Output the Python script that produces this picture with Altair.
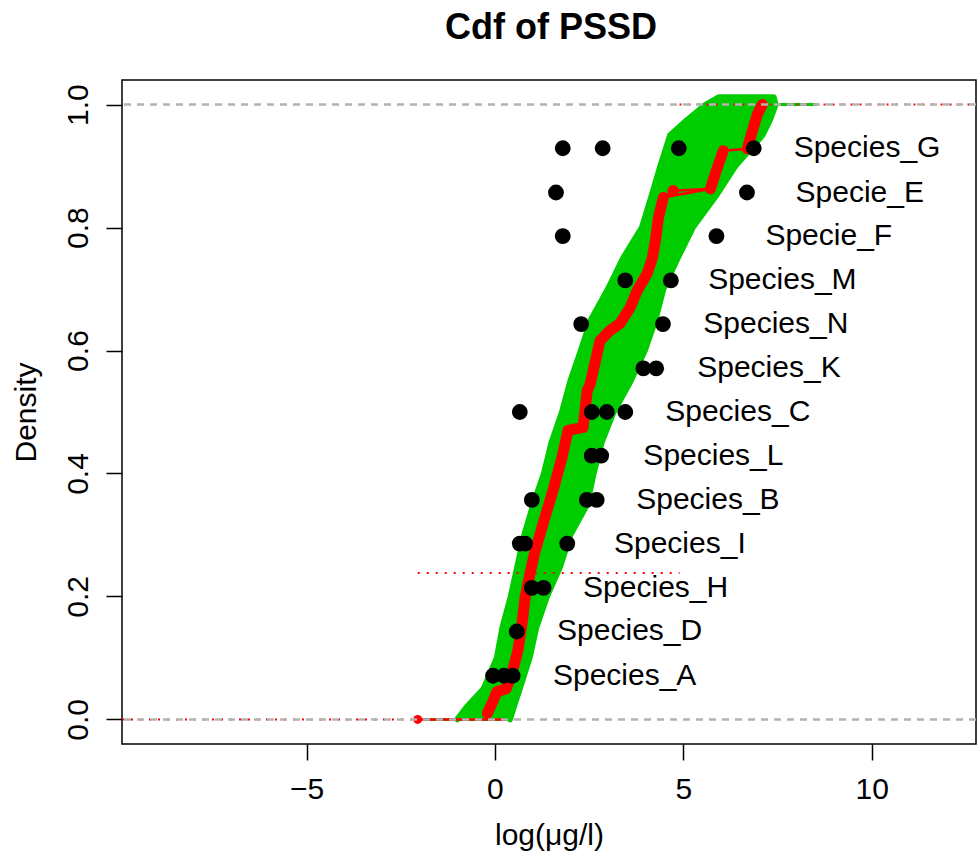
import altair as alt
import pandas as pd

FONT = "Liberation Sans"

# ---- species data (black points) ----
species = ["Species_A", "Species_D", "Species_H", "Species_I", "Species_B", "Species_L",
           "Species_C", "Species_K", "Species_N", "Species_M", "Specie_F", "Specie_E", "Species_G"]
species_y = [0.071, 0.143, 0.214, 0.286, 0.357, 0.429, 0.500, 0.571, 0.643, 0.714, 0.786, 0.857, 0.929]
species_x = [[-0.05, 0.24, 0.47], [0.58], [0.98, 1.29], [0.66, 0.80, 1.92], [0.98, 2.44, 2.70],
             [2.57, 2.82], [0.66, 2.57, 2.97, 3.46], [3.94, 4.28], [2.29, 4.46], [3.46, 4.67],
             [1.80, 5.88], [1.62, 6.69], [1.80, 2.86, 4.88, 6.87]]
label_x = [1.54, 1.65, 2.34, 3.16, 3.75, 3.94, 4.52, 5.37, 5.53, 5.66, 7.18, 7.98, 7.93]

# ---- green bootstrap band (left/right envelope) ----
band_y = [0.000, 0.020, 0.050, 0.100, 0.150, 0.200, 0.250, 0.300, 0.350, 0.400, 0.450, 0.500,
          0.550, 0.600, 0.650, 0.700, 0.750, 0.800, 0.850, 0.900, 0.950, 0.975, 1.000, 1.012]
band_left = [-1.00, -0.75, -0.30, 0.05, 0.20, 0.42, 0.60, 0.78, 1.02, 1.30, 1.50, 1.78,
             2.00, 2.28, 2.55, 3.00, 3.40, 3.90, 4.15, 4.39, 4.65, 5.10, 5.60, 5.95]
band_right = [0.40, 0.50, 0.66, 0.92, 1.10, 1.38, 1.74, 2.00, 2.45, 2.62, 2.83, 3.15,
              3.60, 3.98, 4.26, 4.47, 4.85, 5.25, 5.85, 6.38, 7.10, 7.30, 7.45, 7.40]

# ---- red median cdf ----
red_x = [-0.20, -0.05, 0.05, 0.30, 0.45, 0.61, 0.72, 0.80, 0.93, 1.05, 1.28, 1.54, 1.78, 1.94,
         2.34, 2.45, 2.53, 2.79, 3.06, 3.32, 3.59, 3.78, 4.04, 4.18, 4.26, 4.34, 4.47,
         5.72, 5.85, 6.06,
         6.70, 6.78, 6.97, 7.10]
red_y = [0.010, 0.030, 0.045, 0.050, 0.075, 0.112, 0.156, 0.198, 0.237, 0.270, 0.319, 0.372, 0.426, 0.470,
         0.475, 0.535, 0.546, 0.616, 0.633, 0.644, 0.670, 0.698, 0.725, 0.751, 0.779, 0.816, 0.849,
         0.863, 0.888, 0.925,
         0.928, 0.946, 0.985, 1.000]
red_seg = [1] * 27 + [2] * 3 + [3] * 4
red_step_x = [4.47, 4.73, 5.72]
red_step_y = [0.849, 0.860, 0.863]
red_start = [-2.05]

# ---- horizontal reference segments ----
seg_x = [-9.90, -2.05, 4.90]
seg_x2 = [-2.05, 4.90, 12.77]
seg_y = [0.0, 0.238, 1.0]
green_flat_x = [-1.90, 5.90]
green_flat_x2 = [0.40, 8.56]
green_flat_y = [0.0, 1.0]

XD = [-9.90, 12.77]
YD = [-0.04, 1.04]
W, H = 854, 664

xs = alt.Scale(domain=XD, nice=False, zero=False)
ys = alt.Scale(domain=YD, nice=False, zero=False)

# polygon: left edge upward, then right edge downward
poly_x = band_left + band_right[::-1]
poly_y = band_y + band_y[::-1]
poly_df = pd.DataFrame({"x": poly_x, "y": poly_y, "i": list(range(len(poly_x)))})

red_df = pd.DataFrame({"x": red_x, "y": red_y, "seg": red_seg})
step_df = pd.DataFrame({"x": red_step_x, "y": red_step_y})
pts = []
for name, yy, xl in zip(species, species_y, species_x):
    for xv in xl:
        pts.append({"species": name, "x": xv, "y": yy})
pts_df = pd.DataFrame(pts)
lab_df = pd.DataFrame({"species": species, "x": label_x, "y": species_y})
seg_df = pd.DataFrame({"x": seg_x, "x2": seg_x2, "y": seg_y})
gflat_df = pd.DataFrame({"x": green_flat_x, "x2": green_flat_x2, "y": green_flat_y})

xaxis = alt.Axis(values=[-5, 0, 5, 10], grid=False, domain=False, tickColor="black", tickSize=16,
                 tickWidth=1.5, labelFont=FONT, labelFontSize=30, labelColor="black", labelPadding=14,
                 title="log(μg/l)", titleFont=FONT, titleFontSize=30, titleFontWeight="normal",
                 titleColor="black", titlePadding=16)
yaxis = alt.Axis(values=[0, 0.2, 0.4, 0.6, 0.8, 1.0], format=".1f", grid=False, domain=False,
                 tickColor="black", tickSize=16, tickWidth=1.5, labelFont=FONT, labelFontSize=30,
                 labelColor="black", labelAngle=270, labelAlign="center", labelBaseline="bottom",
                 labelPadding=13, title="Density", titleFont=FONT, titleFontSize=30,
                 titleFontWeight="normal", titleColor="black", titlePadding=22)

GREEN = "#00CD00"
RED = "#FF0000"

band = alt.Chart(poly_df).mark_line(fill=GREEN, stroke=GREEN, strokeWidth=6,
                                    strokeJoin="round", strokeCap="round").encode(
    y=alt.Y("y:Q", scale=ys, axis=yaxis),
    x=alt.X("x:Q", scale=xs, axis=xaxis),
    order=alt.Order("i:Q"),
)

gflat = alt.Chart(gflat_df).mark_rule(color=GREEN, strokeWidth=3).encode(
    x=alt.X("x:Q", scale=xs), x2="x2:Q", y=alt.Y("y:Q", scale=ys))

red_dots = alt.Chart(seg_df).mark_rule(color=RED, strokeWidth=2, strokeDash=[2, 7]).encode(
    x=alt.X("x:Q", scale=xs), x2="x2:Q", y=alt.Y("y:Q", scale=ys))

red_zero = alt.Chart(pd.DataFrame({"x": red_start, "x2": [0.30], "y": [0.0]})).mark_rule(
    color=RED, strokeWidth=2.5).encode(x=alt.X("x:Q", scale=xs), x2="x2:Q", y=alt.Y("y:Q", scale=ys))

red_thin = alt.Chart(red_df).mark_line(color=RED, strokeWidth=2.5).encode(
    x=alt.X("x:Q", scale=xs), y=alt.Y("y:Q", scale=ys), order=alt.Order("y:Q"))

red_step = alt.Chart(step_df).mark_line(color=RED, strokeWidth=2.5).encode(
    x=alt.X("x:Q", scale=xs), y=alt.Y("y:Q", scale=ys), order=alt.Order("x:Q"))

red_thick = alt.Chart(red_df).mark_line(color=RED, strokeWidth=11, strokeCap="round",
                                        strokeJoin="round").encode(
    x=alt.X("x:Q", scale=xs), y=alt.Y("y:Q", scale=ys), detail="seg:N", order=alt.Order("y:Q"))

red_knot = alt.Chart(pd.DataFrame({"x": [4.73], "y": [0.860]})).mark_point(
    filled=True, color=RED, size=130, opacity=1).encode(
    x=alt.X("x:Q", scale=xs), y=alt.Y("y:Q", scale=ys))

red_first = alt.Chart(pd.DataFrame({"x": red_start, "y": [0.0]})).mark_point(
    filled=True, color=RED, size=80, opacity=1).encode(
    x=alt.X("x:Q", scale=xs), y=alt.Y("y:Q", scale=ys))

gray = alt.Chart(pd.DataFrame({"y": [0.0, 1.0]})).mark_rule(
    color="#B3B3B3", strokeWidth=2.5, strokeDash=[7, 6]).encode(y=alt.Y("y:Q", scale=ys))

black = alt.Chart(pts_df).mark_point(filled=True, color="black", size=250, opacity=1).encode(
    x=alt.X("x:Q", scale=xs), y=alt.Y("y:Q", scale=ys))

labels = alt.Chart(lab_df).mark_text(align="left", baseline="middle", font=FONT, fontSize=30,
                                     color="black").encode(
    x=alt.X("x:Q", scale=xs), y=alt.Y("y:Q", scale=ys), text="species:N")

title = alt.Chart(pd.DataFrame({"t": ["Cdf of PSSD"]})).mark_text(
    align="center", baseline="alphabetic", font=FONT, fontSize=36, fontWeight="bold",
    color="black").encode(x=alt.value(W / 2 + 2), y=alt.value(-41), text="t:N")

chart = alt.layer(
    band, gflat, red_dots, red_zero, red_thin, red_step, red_thick, red_knot, red_first,
    gray, black, labels, title
).properties(
    width=W, height=H,
    padding={"left": 122, "top": 80, "right": 1, "bottom": 113},
    autosize=alt.AutoSizeParams(type="none"),
    background="white",
).configure_view(stroke="black", strokeWidth=1.5)

chart.save("out.html", embed_options={"renderer": "svg", "actions": False})
